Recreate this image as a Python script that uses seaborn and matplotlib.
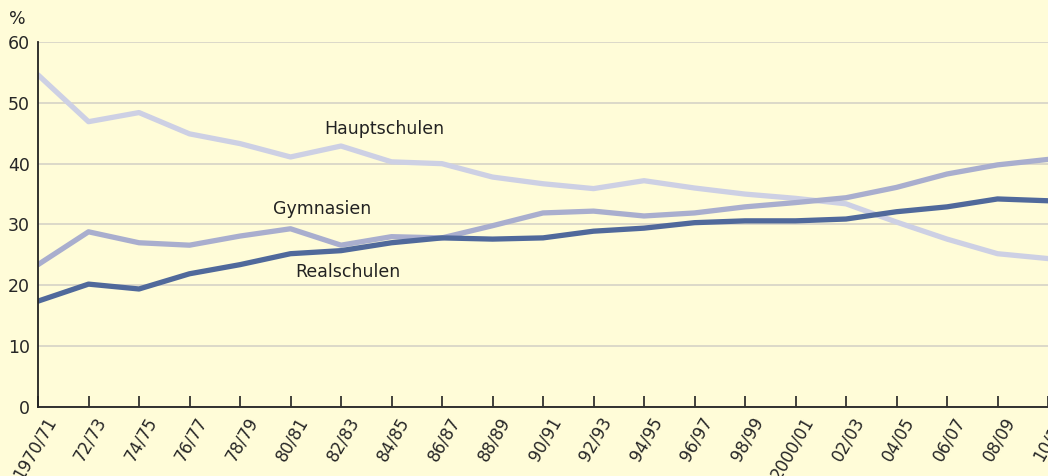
import pandas as pd
import seaborn as sns
import matplotlib.pyplot as plt
import matplotlib.transforms as mtransforms

# school years on the x axis
years = ["1970/71", "72/73", "74/75", "76/77", "78/79", "80/81", "82/83", "84/85",
         "86/87", "88/89", "90/91", "92/93", "94/95", "96/97", "98/99", "2000/01",
         "02/03", "04/05", "06/07", "08/09", "10/11"]

# share of pupils in %
hauptschulen = [54.6, 46.9, 48.4, 44.9, 43.3, 41.1, 42.9, 40.3, 40.0, 37.8, 36.7,
                35.9, 37.2, 36.0, 35.0, 34.3, 33.4, 30.4, 27.6, 25.2, 24.4]
gymnasien = [23.4, 28.8, 27.0, 26.6, 28.1, 29.3, 26.6, 28.0, 27.8, 29.8, 31.9,
             32.2, 31.4, 31.9, 32.9, 33.6, 34.4, 36.1, 38.3, 39.8, 40.7]
realschulen = [17.4, 20.2, 19.4, 21.9, 23.4, 25.2, 25.7, 27.0, 27.8, 27.6, 27.8,
               28.9, 29.4, 30.3, 30.6, 30.6, 30.9, 32.1, 32.9, 34.2, 33.9]

series = ["Hauptschulen", "Gymnasien", "Realschulen"]
colors = ["#cdd0e4", "#a9aece", "#50699b"]

df = pd.DataFrame({"year": years * 3,
                   "idx": list(range(len(years))) * 3,
                   "value": hauptschulen + gymnasien + realschulen,
                   "school": [s for s in series for _ in years]})

bg = "#fffcd8"
sns.set_style("white")
plt.rcParams['font.family'] = ['DejaVu Sans']

fig = plt.figure(figsize=(10.48, 4.76), dpi=100, facecolor=bg)
ax = fig.add_axes([38 / 1048, 1 - 407 / 476, 1 - 38 / 1048, (407 - 42) / 476])
ax.set_facecolor(bg)

sns.lineplot(data=df, x="idx", y="value", hue="school", hue_order=series,
             palette=colors, linewidth=3.8, sort=False, legend=False, ax=ax)

ax.set_xlim(0, len(years) - 1)
ax.set_ylim(0, 60)
ax.set_yticks(range(0, 61, 10))
ax.yaxis.grid(True, color="#d6d3c6", linewidth=1.2)
ax.set_axisbelow(True)

ax.set_xticks(range(len(years)))
ax.set_xticklabels(years, rotation=60, ha="right", rotation_mode="anchor", fontsize=12)
ax.tick_params(axis="x", bottom=True, direction="in", length=8, width=1.2,
               color="#222222", pad=5)
ax.tick_params(axis="y", left=False, length=0, labelsize=12.5, pad=6)
# nudge tick labels a little to the right, as in the original
shift = mtransforms.ScaledTranslation(6 / 100, 0, fig.dpi_scale_trans)
for lab in ax.get_xticklabels():
    lab.set_transform(lab.get_transform() + shift)

for s in ["top", "right"]:
    ax.spines[s].set_visible(False)
for s in ["left", "bottom"]:
    ax.spines[s].set_color("#222222")
    ax.spines[s].set_linewidth(1.3)

ax.set_xlabel("")
ax.set_ylabel("")

# series labels
ax.text(5.66, 45.7, "Hauptschulen", fontsize=12.5, color="#222222", va="center")
ax.text(4.66, 32.5, "Gymnasien", fontsize=12.5, color="#222222", va="center")
ax.text(5.09, 22.2, "Realschulen", fontsize=12.5, color="#222222", va="center")

fig.text(9 / 1048, 1 - 24 / 476, "%", fontsize=12.5, color="#222222")

fig.savefig("out.png", dpi=100, facecolor=bg)
